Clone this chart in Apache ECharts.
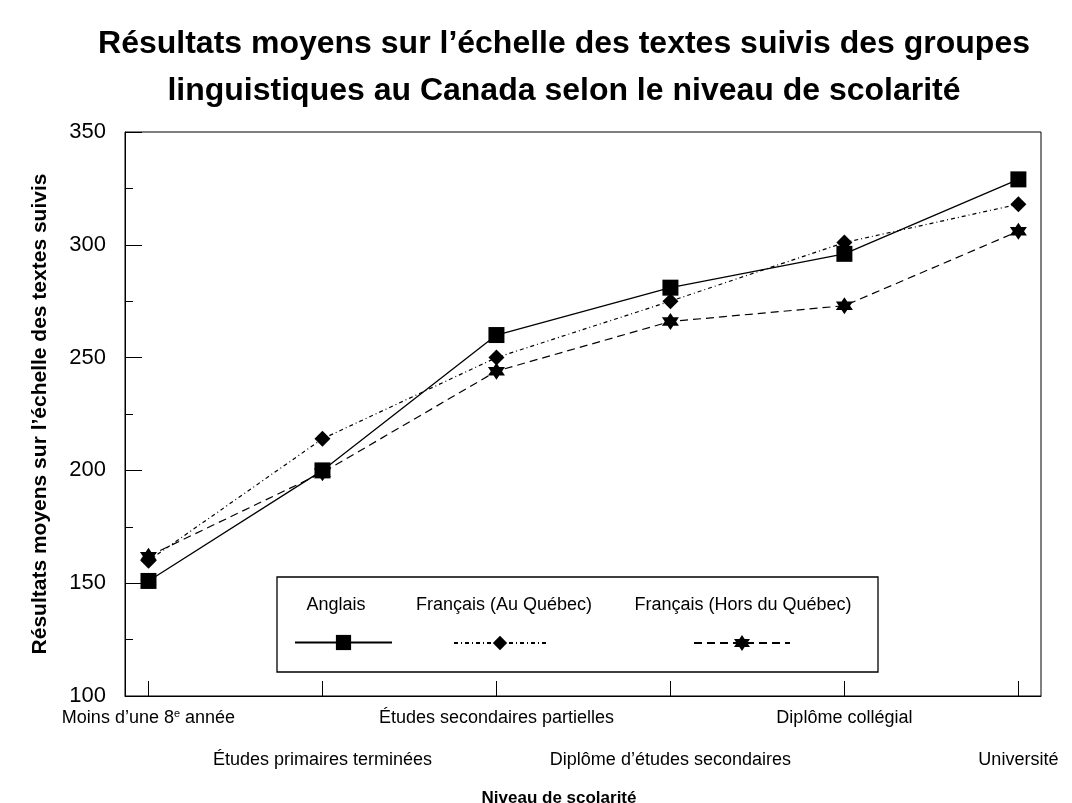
<!DOCTYPE html>
<html>
<head>
<meta charset="utf-8">
<script src="https://cdn.jsdelivr.net/npm/echarts@6/dist/echarts.min.js"></script>
<style>
  html, body { margin: 0; padding: 0; background: #fff; }
  #chart { width: 1072px; height: 803px; }
</style>
</head>
<body>
<div id="chart"></div>
<script>
  // niveaux de scolarité (axe x)
  var niveaux = [
    'Moins d’une 8e année',
    'Études primaires terminées',
    'Études secondaires partielles',
    'Diplôme d’études secondaires',
    'Diplôme collégial',
    'Université'
  ];
  var positions = [0, 1, 2, 3, 4, 5];
  var positionsHaut = [0, 2, 4]; // première rangée d'étiquettes
  var positionsBas = [1, 3, 5];  // deuxième rangée
  var yTicks = [100, 150, 200, 250, 300, 350];

  var anglais = [151, 200, 260, 281, 296, 329];
  var francaisQc = [160, 214, 250, 275, 301, 318];
  var francaisHorsQc = [162, 199, 244, 266, 273, 306];

  var nomsSeries = ['Anglais', 'Français (Au Québec)', 'Français (Hors du Québec)'];

  var FONT = '"Liberation Sans", Arial, sans-serif';
  // étoile à six branches
  var etoile = 'path://M50 0 L64.43 25 L93.3 25 L78.87 50 L93.3 75 L64.43 75 L50 100 L35.57 75 L6.7 75 L21.13 50 L6.7 25 L35.57 25 Z';

  function paires(values) {
    return values.map(function (v, i) { return [positions[i], v]; });
  }

  function labelNiveau(value) {
    var i = Math.round(value);
    if (i === 0) {
      return '{t|Moins d’une 8}{s|e}{t| année}';
    }
    return '{t|' + niveaux[i] + '}';
  }

  var richLabels = {
    t: { fontFamily: FONT, fontSize: 18, lineHeight: 21, color: '#000' },
    s: { fontFamily: FONT, fontSize: 11, lineHeight: 12, verticalAlign: 'top', color: '#000' }
  };

  function texteLegende(txt, cx) {
    return {
      type: 'text', z: 2, x: cx, y: 605,
      style: { text: txt, fontFamily: FONT, fontSize: 18, fill: '#000', align: 'center', verticalAlign: 'middle' }
    };
  }

  var myChart = echarts.init(document.getElementById('chart'));
  var option = {
    animation: false,
    backgroundColor: '#fff',
    title: [{
      text: 'Résultats moyens sur l’échelle des textes suivis des groupes\nlinguistiques au Canada selon le niveau de scolarité',
      left: 564,
      top: 21,
      padding: 0,
      textAlign: 'center',
      textStyle: { fontFamily: FONT, fontSize: 32, fontWeight: 'bold', color: '#000', lineHeight: 47 }
    }, {
      text: 'Niveau de scolarité',
      left: 559,
      top: 790,
      padding: 0,
      textAlign: 'center',
      textStyle: { fontFamily: FONT, fontSize: 17, fontWeight: 'bold', color: '#000' }
    }],
    grid: {
      left: 125, right: 31, top: 132, bottom: 107,
      show: true, borderColor: '#000', borderWidth: 1, backgroundColor: 'transparent'
    },
    xAxis: [{
      type: 'value',
      min: -0.135,
      max: 5.13,
      splitLine: { show: false },
      axisLine: { show: true, onZero: false, lineStyle: { color: '#000', width: 1 } },
      axisTick: { show: true, inside: true, length: 15, customValues: positions, lineStyle: { color: '#000' } },
      axisLabel: {
        customValues: positionsHaut,
        showMinLabel: true,
        margin: 12,
        lineHeight: 21,
        color: '#000',
        fontFamily: FONT,
        fontSize: 18,
        formatter: labelNiveau,
        rich: richLabels
      }
    }, {
      type: 'value',
      position: 'bottom',
      min: -0.135,
      max: 5.13,
      splitLine: { show: false },
      axisLine: { show: false, onZero: false },
      axisTick: { show: false },
      axisLabel: {
        customValues: positionsBas,
        showMaxLabel: true,
        margin: 54,
        lineHeight: 21,
        color: '#000',
        fontFamily: FONT,
        fontSize: 18,
        formatter: labelNiveau,
        rich: richLabels
      }
    }],
    yAxis: {
      type: 'value',
      min: 100,
      max: 350,
      interval: 50,
      name: 'Résultats moyens sur l’échelle des textes suivis',
      nameLocation: 'middle',
      nameGap: 74,
      nameMoveOverlap: false,
      nameTextStyle: { fontFamily: FONT, fontSize: 21, fontWeight: 'bold', color: '#000' },
      splitLine: { show: false },
      axisLine: { show: true, onZero: false, lineStyle: { color: '#000', width: 1 } },
      axisTick: { show: true, inside: true, length: 17, lineStyle: { color: '#000' } },
      minorTick: { show: true, splitNumber: 2, length: 8, lineStyle: { color: '#000' } },
      axisLabel: {
        margin: 19,
        color: '#000',
        fontFamily: FONT,
        fontSize: 22,
        customValues: yTicks
      }
    },
    legend: [{
      data: [nomsSeries[0]], left: 294, top: 633, padding: 0, z: 5,
      itemWidth: 97, itemHeight: 19, formatter: function () { return ''; }, selectedMode: false
    }, {
      data: [nomsSeries[1]], left: 453, top: 634, padding: 0, z: 5,
      itemWidth: 92, itemHeight: 18, formatter: function () { return ''; }, selectedMode: false
    }, {
      data: [nomsSeries[2]], left: 693, top: 633, padding: 0, z: 5,
      itemWidth: 96, itemHeight: 20, formatter: function () { return ''; }, selectedMode: false
    }],
    graphic: [{
      type: 'rect',
      z: 1,
      shape: { x: 277, y: 577, width: 601, height: 95 },
      style: { fill: '#fff', stroke: '#000', lineWidth: 1.3 }
    },
      texteLegende(nomsSeries[0], 336),
      texteLegende(nomsSeries[1], 504),
      texteLegende(nomsSeries[2], 743)
    ],
    series: [{
      name: nomsSeries[0],
      type: 'line',
      z: 4,
      data: paires(anglais),
      symbol: 'rect',
      symbolSize: 16,
      itemStyle: { color: '#000' },
      lineStyle: { color: '#000', width: 1.3, type: 'solid' }
    }, {
      name: nomsSeries[1],
      type: 'line',
      z: 3,
      data: paires(francaisQc),
      symbol: 'diamond',
      symbolSize: 16,
      itemStyle: { color: '#000' },
      lineStyle: { color: '#000', width: 1.2, type: [4, 3, 1, 3] }
    }, {
      name: nomsSeries[2],
      type: 'line',
      z: 2,
      data: paires(francaisHorsQc),
      symbol: etoile,
      symbolSize: 17,
      itemStyle: { color: '#000' },
      lineStyle: { color: '#000', width: 1.2, type: [8, 5] }
    }]
  };
  myChart.setOption(option);
</script>
</body>
</html>
